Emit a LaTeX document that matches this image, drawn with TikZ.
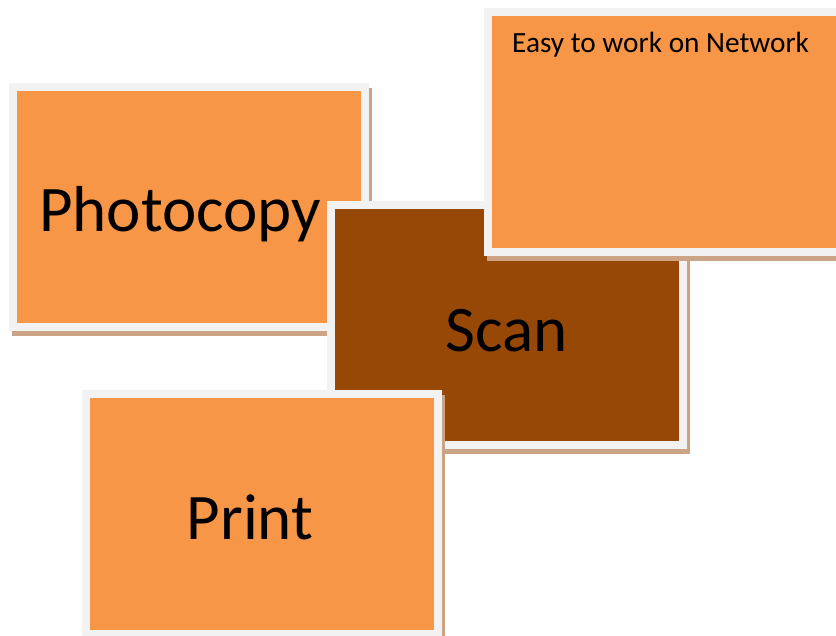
\documentclass[tikz,border=0pt]{standalone}
\usepackage{fontspec}
\setmainfont{Carlito}
\usetikzlibrary{shadows}

\definecolor{cardfill}{RGB}{247,150,70}
\definecolor{carddark}{RGB}{151,72,6}
\definecolor{cardedge}{RGB}{242,242,242}
\definecolor{cardshade}{RGB}{204,163,132}

\tikzset{
  card/.style={rectangle, draw=cardedge, line width=8pt, fill=cardfill,
    minimum width=352pt, minimum height=240pt, inner sep=0pt,
    general shadow={draw=cardshade, fill=cardshade, line width=8pt,
      shadow xshift=3pt, shadow yshift=-5pt}},
  bigtext/.style={font=\fontsize{65}{78}\selectfont, anchor=base, inner sep=0pt},
  smalltext/.style={font=\fontsize{29.3}{34}\selectfont, anchor=base west, inner sep=0pt}
}

\begin{document}
\begin{tikzpicture}[x=1pt,y=-1pt]
    \useasboundingbox (0,0) rectangle (836,636);
    \clip (0,0) rectangle (836,636);

% cards, back to front
    \node[card] (photocopy) at (189,207) {};
    \node[bigtext, anchor=base west] (photocopytext) at (39,232) {Photocopy};

    \node[card, fill=carddark] (scan) at (507,325) {};
    \node[bigtext] (scantext) at (507,352) {Scan};

    \node[card] (network) at (664,132) {};
    \node[smalltext] (networktext) at (512,53) {Easy to work on Network};

    \node[card] (print) at (262,514) {};
    \node[bigtext] (printtext) at (250,539) {Print};

\end{tikzpicture}
\end{document}
